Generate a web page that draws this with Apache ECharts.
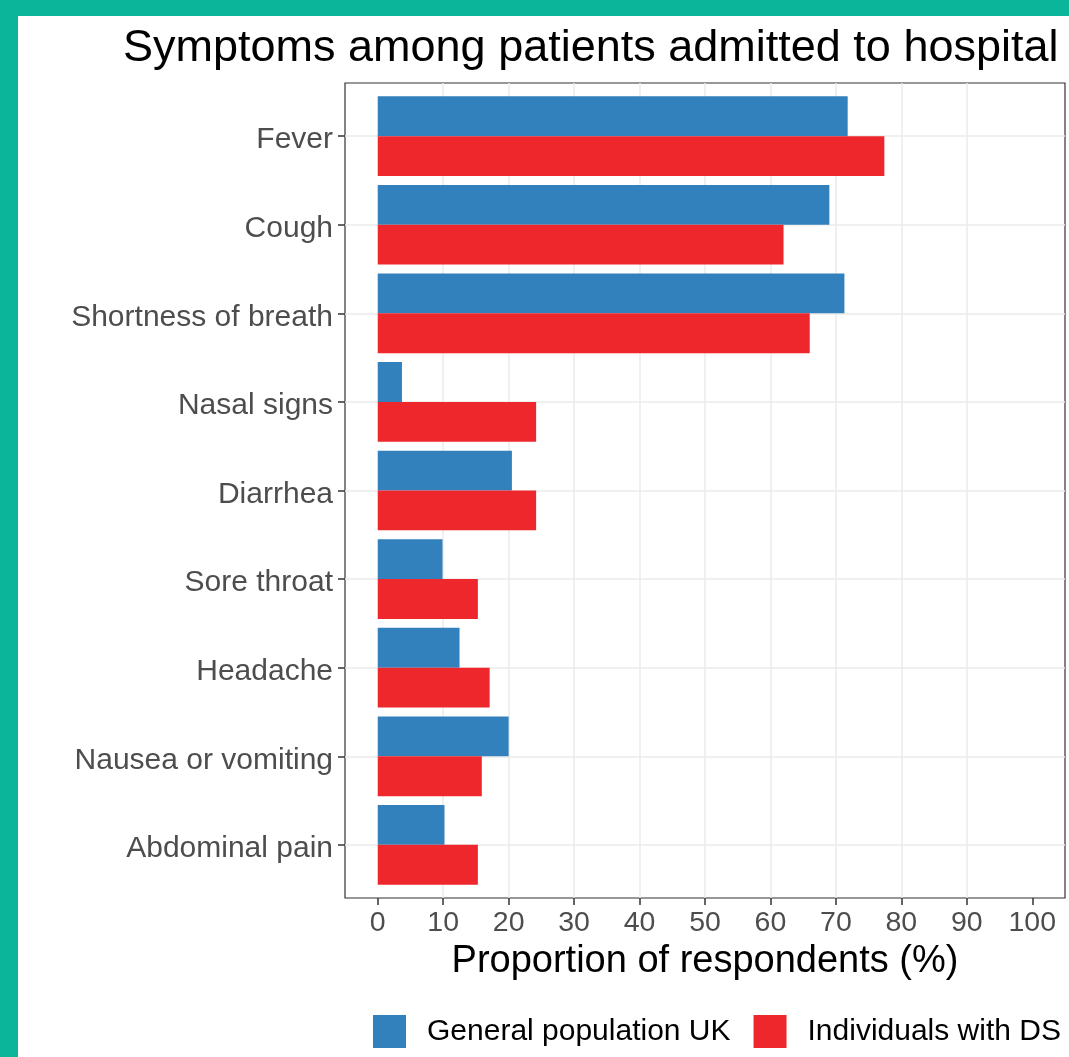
<!DOCTYPE html>
<html>
<head>
<meta charset="utf-8">
<script src="https://cdn.jsdelivr.net/npm/echarts@6/dist/echarts.min.js"></script>
<style>
  html, body { margin: 0; padding: 0; background: #ffffff; }
  #chart { width: 1069px; height: 1057px; }
</style>
</head>
<body>
<div id="chart"></div>
<script>
// ---- data ----
const categories = ['Fever', 'Cough', 'Shortness of breath', 'Nasal signs', 'Diarrhea',
  'Sore throat', 'Headache', 'Nausea or vomiting', 'Abdominal pain'];
const generalUK = [71.8, 69.0, 71.3, 3.7, 20.5, 9.9, 12.5, 20.0, 10.2];
const individualsDS = [77.4, 62.0, 66.0, 24.2, 24.2, 15.3, 17.1, 15.9, 15.3];
const xTickValues = [0, 10, 20, 30, 40, 50, 60, 70, 80, 90, 100];
const seriesNames = ['General population UK', 'Individuals with DS'];
const titleText = 'Symptoms among patients admitted to hospital';
const xAxisTitle = 'Proportion of respondents (%)';

// ---- layout (pixels) ----
const FONT = '"Liberation Sans", Arial, Helvetica, sans-serif';
const P_LEFT = 345, P_TOP = 83, P_W = 720, P_H = 815;
const nUnits = categories.length - 1 + 1.2;       // ggplot discrete expansion 0.6 each side
const band = P_H / nUnits;
const barTop = P_TOP + 0.1 * band;
const barH = band * categories.length;
const lineTop = P_TOP + 0.6 * band;
const lineH = band * (categories.length - 1);

const chart = echarts.init(document.getElementById('chart'), null, { renderer: 'canvas' });

const option = {
  animation: false,
  backgroundColor: '#ffffff',
  textStyle: { fontFamily: FONT },
  graphic: [
    { type: 'rect', z: 100, shape: { x: 0, y: 0, width: 1069, height: 16 }, style: { fill: '#0ab59a' } },
    { type: 'rect', z: 100, shape: { x: 0, y: 0, width: 18, height: 1057 }, style: { fill: '#0ab59a' } }
  ],
  title: {
    text: titleText,
    left: 123,
    top: 26,
    padding: 0,
    textStyle: { fontFamily: FONT, fontSize: 45, fontWeight: 'normal', color: '#000000' }
  },
  legend: {
    data: seriesNames,
    left: 373,
    top: 1015,
    padding: 0,
    icon: 'rect',
    itemWidth: 33,
    itemHeight: 33,
    itemGap: 23,
    textStyle: { fontFamily: FONT, fontSize: 30, color: '#000000', padding: [0, 0, 0, 16] }
  },
  grid: [
    { left: P_LEFT, top: P_TOP, width: P_W, height: P_H, show: true,
      borderColor: '#333333', borderWidth: 1.2, backgroundColor: 'transparent', containLabel: false },
    { left: P_LEFT, top: barTop, width: P_W, height: barH, containLabel: false },
    { left: P_LEFT, top: lineTop, width: P_W, height: lineH, containLabel: false }
  ],
  xAxis: [
    {
      gridIndex: 0, type: 'value', min: -5, max: 105, interval: 5,
      name: xAxisTitle, nameLocation: 'middle', nameGap: 43,
      nameTextStyle: { fontFamily: FONT, fontSize: 38, color: '#000000' },
      axisLine: { show: false, onZero: false },
      axisTick: { show: true, customValues: xTickValues, length: 7, lineStyle: { color: '#333333', width: 1.5 } },
      axisLabel: { show: true, customValues: xTickValues, margin: 11, fontFamily: FONT, fontSize: 28.5, color: '#4d4d4d' },
      splitLine: { show: true, showMinLine: false, showMaxLine: false, lineStyle: { color: '#ebebeb', width: 1.5 } }
    },
    { gridIndex: 1, type: 'value', min: -5, max: 105, show: false },
    { gridIndex: 2, type: 'value', min: 0, max: 1, show: false }
  ],
  yAxis: [
    { gridIndex: 0, type: 'value', min: 0, max: 1, show: false },
    {
      gridIndex: 1, type: 'category', data: categories, inverse: true,
      axisLine: { show: false, onZero: false },
      axisTick: { show: true, alignWithLabel: true, interval: 0, length: 7, lineStyle: { color: '#333333', width: 1.5 } },
      axisLabel: {
        show: true, interval: 0, margin: 12, fontFamily: FONT, fontSize: 30, color: '#4d4d4d',
        formatter: function (v) { return '{a|' + v + '}'; },
        rich: { a: { fontFamily: FONT, fontSize: 30, color: '#4d4d4d', lineHeight: 30, padding: [8, 0, 0, 0] } }
      },
      splitLine: { show: false }
    },
    {
      gridIndex: 2, type: 'category', data: categories, inverse: true, boundaryGap: false,
      axisLine: { show: false, onZero: false }, axisTick: { show: false }, axisLabel: { show: false },
      splitLine: { show: true, interval: 0, lineStyle: { color: '#ebebeb', width: 1.5 } }
    }
  ],
  series: [
    {
      name: seriesNames[0], type: 'bar', xAxisIndex: 1, yAxisIndex: 1,
      data: generalUK, barCategoryGap: '10%', barGap: '0%',
      itemStyle: { color: '#3281bc' }
    },
    {
      name: seriesNames[1], type: 'bar', xAxisIndex: 1, yAxisIndex: 1,
      data: individualsDS, barCategoryGap: '10%', barGap: '0%',
      itemStyle: { color: '#ee272d' }
    }
  ]
};

chart.setOption(option);
</script>
</body>
</html>
